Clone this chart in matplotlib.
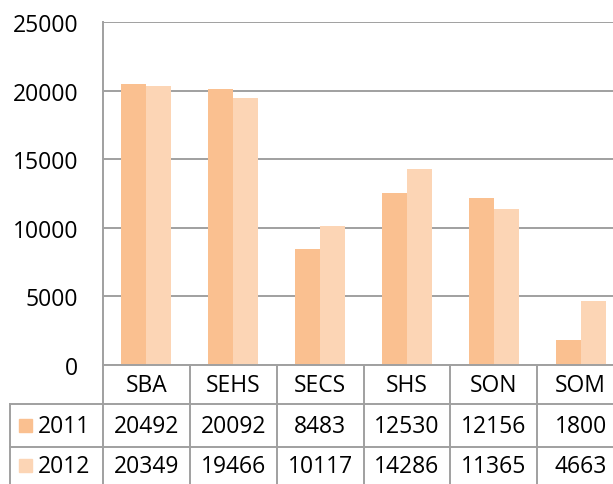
import numpy as np
import matplotlib
matplotlib.use("Agg")
import matplotlib.pyplot as plt
from matplotlib.transforms import blended_transform_factory
from matplotlib.patches import Rectangle

categories = ["SBA", "SEHS", "SECS", "SHS", "SON", "SOM"]
series_names = ["2011", "2012"]
values_2011 = [20492, 20092, 8483, 12530, 12156, 1800]
values_2012 = [20349, 19466, 10117, 14286, 11365, 4663]
colors = ["#FAC090", "#FCD5B5"]
yticks = [0, 5000, 10000, 15000, 20000, 25000]

plt.rcParams["font.family"] = ["Open Sans", "DejaVu Sans"]
FS = 16.5
GRID = "#a0a0a0"

W, H = 613, 485
fig = plt.figure(figsize=(W / 100, H / 100), dpi=100)

# plot area in pixels (runs past the right edge, like the cropped source)
left, right, top, bottom = 103, 624, 23, 366
ax = fig.add_axes([left / W, (H - bottom) / H, (right - left) / W, (bottom - top) / H])

x = np.arange(len(categories))
bw = 0.287
ax.bar(x - bw / 2, values_2011, bw, color=colors[0], zorder=2)
ax.bar(x + bw / 2, values_2012, bw, color=colors[1], zorder=2)

ax.set_xlim(-0.5, len(categories) - 0.5)
ax.set_ylim(0, 25000)
ax.set_yticks(yticks)
ax.set_yticklabels([str(t) for t in yticks], fontsize=FS)
ax.tick_params(axis="y", length=0, pad=18)
ax.set_xticks([])
ax.yaxis.grid(True, color=GRID, lw=1.4, zorder=0)
for s in ["top", "right"]:
    ax.spines[s].set_visible(False)
for s in ["left", "bottom"]:
    ax.spines[s].set_color(GRID)
    ax.spines[s].set_linewidth(1.4)


def yfrac(ypx):
    return (bottom - ypx) / (bottom - top)


trans = blended_transform_factory(ax.transData, ax.transAxes)
kw = dict(transform=trans, clip_on=False, color=GRID, lw=1.4)

# data table
row_lines = [405, 448]
xl = -0.5 - (left - 10) / ((right - left) / len(categories))
for yl in row_lines:
    ax.plot([xl, len(categories) - 0.5], [yfrac(yl)] * 2, **kw)
ax.plot([xl, xl], [yfrac(405), yfrac(490)], **kw)
for i in range(len(categories) + 1):
    ax.plot([i - 0.5, i - 0.5], [0, yfrac(490)], **kw)

for i, c in enumerate(categories):
    ax.text(i, yfrac(386), c, transform=trans, ha="center", va="center", fontsize=FS)
    ax.text(i, yfrac(427), str(values_2011[i]), transform=trans, ha="center", va="center", fontsize=FS)
    ax.text(i, yfrac(467), str(values_2012[i]), transform=trans, ha="center", va="center", fontsize=FS)

for name, col, ypx in zip(series_names, colors, [427, 467]):
    fig.patches.append(Rectangle((19 / W, (H - ypx - 6) / H), 13 / W, 13 / H,
                                 transform=fig.transFigure, color=col))
    fig.text(38 / W, (H - ypx) / H, name, ha="left", va="center", fontsize=FS)

fig.savefig("out.png", dpi=100)
